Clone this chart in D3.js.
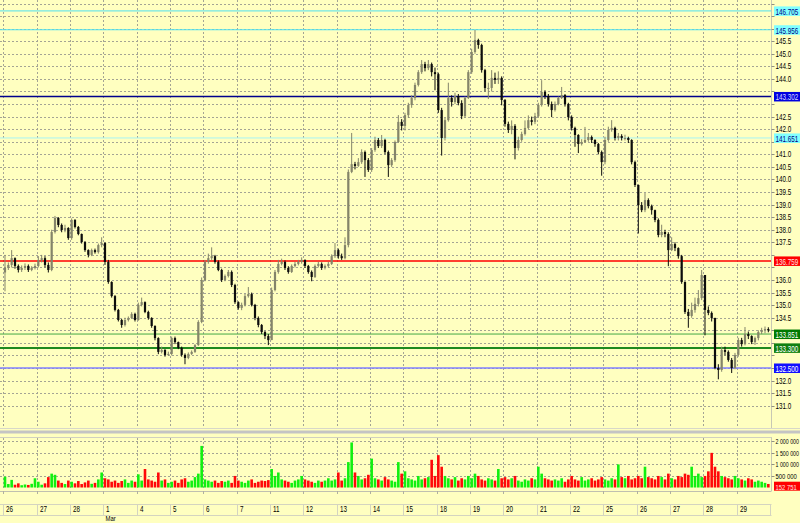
<!DOCTYPE html>
<html><head><meta charset="utf-8">
<script src="https://cdn.jsdelivr.net/npm/d3@7"></script>
<style>html,body{margin:0;padding:0;background:#ffffc0;overflow:hidden}svg{display:block}</style>
</head><body>
<svg id="c" width="800" height="523"></svg>
<script>
// ---------------- DATA ----------------
const dayLabels = ["26","27","28","1","4","5","6","7","11","12","13","14","15","18","19","20","21","22","25","26","27","28","29"];
const monthMarks = ["Mar"];          // month label
const monthMarkDay = [3];            // index of day where month starts
const firstOpen = 136.30;
const closes = [
136.48,136.60,136.87,136.56,136.40,136.48,136.56,136.40,136.48,136.56,
136.80,136.87,136.60,136.40,137.91,138.47,138.19,137.99,138.07,137.67,
138.39,138.11,137.83,137.51,137.19,137.00,137.19,137.11,137.39,137.47,
136.72,135.92,135.36,134.81,134.41,134.21,134.41,134.49,134.65,134.41,
135.01,135.12,134.73,134.49,134.17,133.69,133.14,133.22,133.02,133.06,
133.69,133.53,133.30,133.02,132.90,133.06,133.14,133.41,134.33,136.00,
136.72,136.87,136.95,136.72,136.40,136.00,136.16,136.32,135.80,135.12,
134.89,135.01,135.36,135.44,135.01,134.49,134.21,133.93,133.77,133.61,
135.60,136.32,136.64,136.72,136.48,136.32,136.56,136.64,136.72,136.80,
136.56,136.32,136.12,136.56,136.64,136.48,136.56,136.64,136.95,137.19,
136.95,136.87,137.39,140.30,140.61,140.54,140.69,141.09,140.77,140.38,
141.17,141.57,141.33,141.57,141.09,140.57,140.77,141.49,142.29,142.13,
142.56,142.96,143.24,143.76,144.27,144.59,144.43,144.59,144.27,144.19,
142.76,141.65,142.36,143.24,143.08,143.32,143.04,142.52,143.24,144.27,
145.07,145.55,145.35,144.35,143.64,143.64,144.04,143.96,144.04,143.16,
142.21,141.97,142.13,141.25,141.57,141.81,142.05,142.36,142.29,142.52,
142.96,143.48,143.32,143.00,142.76,143.00,143.24,143.36,143.00,142.48,
142.05,141.77,141.41,141.49,141.57,141.69,141.57,141.41,141.09,140.69,
141.57,141.97,142.05,141.65,141.73,141.65,141.65,141.57,140.69,139.78,
138.98,138.78,139.18,138.94,138.78,138.39,137.79,137.91,137.83,137.19,
137.43,137.27,136.95,135.92,134.73,134.57,134.81,135.05,135.28,136.20,
134.81,134.69,134.49,132.50,132.42,133.22,133.14,132.82,132.50,133.02,
133.61,133.45,133.85,133.77,133.53,133.69,133.93,134.01,134.05,134.00];
const highs = [
137.00,136.70,137.19,136.90,136.62,136.58,136.66,136.62,136.55,136.65,
136.95,137.00,136.95,136.70,138.00,138.55,138.50,138.25,138.20,138.10,
138.45,138.42,138.15,137.85,137.55,137.22,137.25,137.25,137.45,137.70,
137.50,136.80,135.95,135.40,134.85,134.45,134.50,134.55,134.72,134.70,
135.10,135.30,135.15,134.78,134.52,134.20,133.72,133.35,133.25,133.15,
133.75,133.75,133.55,133.35,133.08,133.12,133.20,133.45,134.40,136.10,
136.80,137.05,137.30,137.00,136.78,136.45,136.22,136.40,136.38,135.85,
135.15,135.10,135.45,135.72,135.50,135.05,134.55,134.25,133.98,133.85,
135.70,136.40,136.80,136.85,136.78,136.55,136.62,136.72,136.80,136.90,
136.82,136.60,136.38,136.62,136.72,136.70,136.62,136.72,137.02,137.47,
137.25,137.05,137.70,140.40,141.85,140.70,140.85,141.20,141.15,140.85,
141.25,141.70,141.65,141.77,141.62,141.15,140.85,141.55,142.56,142.40,
142.65,143.05,143.35,143.85,144.35,144.75,144.68,144.75,144.65,144.45,
144.25,142.85,142.45,143.85,143.35,143.45,143.40,143.15,143.30,144.35,
145.20,145.95,145.60,145.40,144.40,143.85,144.35,144.25,144.30,144.10,
143.20,142.30,142.35,142.20,141.70,141.90,142.35,142.55,142.50,142.65,
143.05,143.95,143.55,143.40,143.10,143.10,143.30,143.68,143.40,143.05,
142.55,142.10,141.80,141.60,142.09,141.85,141.75,141.60,141.45,141.15,
141.70,142.10,142.36,142.10,141.85,141.80,141.78,141.70,141.60,140.75,
139.80,139.10,139.46,139.25,139.00,138.80,138.45,138.20,138.00,137.90,
137.70,137.50,137.30,137.00,135.95,134.85,135.10,135.30,135.60,136.40,
136.20,134.95,134.75,134.50,132.65,133.35,133.35,133.20,132.90,133.10,
133.70,133.70,134.13,133.95,133.80,133.75,134.00,134.10,134.15,134.12];
const lows = [
135.55,136.40,136.50,136.45,136.30,136.32,136.40,136.32,136.35,136.42,
136.50,136.70,136.50,136.30,136.35,137.85,138.10,137.90,137.90,137.60,
137.60,138.05,137.78,137.45,137.12,136.90,136.95,137.05,137.05,137.30,
136.60,135.85,135.30,134.75,134.35,134.10,134.15,134.35,134.45,134.35,
134.38,134.95,134.68,134.42,134.10,133.60,133.05,133.08,132.95,132.98,
133.00,133.45,133.25,132.95,132.65,132.85,133.02,133.10,133.38,134.28,
135.95,136.65,136.80,136.65,136.35,135.92,135.95,136.10,135.72,135.05,
134.82,134.80,134.95,135.30,134.95,134.40,134.12,133.85,133.65,133.41,
134.40,135.55,136.25,136.58,136.40,136.25,136.28,136.50,136.58,136.65,
136.48,136.25,135.95,136.08,136.50,136.40,136.42,136.50,136.60,136.88,
136.85,136.80,136.82,137.30,140.25,140.40,140.50,140.62,140.10,140.30,
140.30,141.10,141.25,141.25,141.00,140.10,140.50,140.70,141.45,141.95,
141.95,142.45,142.85,143.15,143.70,144.20,144.30,144.35,144.10,143.55,
142.65,140.95,141.55,142.30,142.90,143.00,142.95,142.40,142.45,143.20,
144.20,145.00,145.20,144.25,143.50,143.20,143.50,143.80,143.80,142.95,
142.10,141.85,141.80,140.80,141.15,141.50,141.75,142.00,142.15,142.20,
142.45,142.90,143.20,142.90,142.48,142.70,142.95,143.20,142.90,142.35,
141.95,141.30,141.05,141.35,141.45,141.50,141.45,141.30,141.00,140.15,
140.60,141.50,141.90,141.55,141.55,141.55,141.55,141.45,140.60,139.70,
137.85,138.70,138.70,138.85,138.60,138.30,137.70,137.70,137.70,136.55,
137.15,137.15,136.85,135.85,134.65,134.10,134.50,134.70,134.95,135.20,
133.80,134.60,134.35,132.45,132.05,132.35,133.00,132.75,132.30,132.45,
132.95,133.35,133.40,133.65,133.45,133.42,133.60,133.85,133.88,133.92];
const volumes = [
470000,150000,330000,120000,180000,100000,130000,110000,160000,400000,
250000,120000,180000,450000,600000,550000,300000,200000,150000,300000,
250000,180000,280000,150000,220000,300000,160000,200000,350000,650000,
400000,350000,250000,300000,200000,280000,350000,200000,300000,250000,
570000,300000,800000,350000,300000,250000,650000,300000,350000,200000,
250000,300000,200000,350000,400000,250000,300000,450000,600000,1800000,
350000,300000,250000,300000,200000,280000,250000,300000,200000,500000,
300000,250000,200000,300000,350000,200000,250000,300000,280000,320000,
800000,500000,650000,350000,300000,250000,200000,300000,350000,500000,
350000,300000,250000,200000,300000,250000,300000,400000,300000,350000,
650000,300000,400000,1100000,1950000,650000,500000,350000,400000,550000,
1250000,400000,350000,300000,450000,350000,300000,250000,1100000,600000,
700000,400000,350000,300000,500000,350000,400000,450000,1200000,500000,
1400000,900000,500000,400000,350000,450000,300000,400000,350000,500000,
400000,600000,500000,350000,300000,400000,350000,300000,800000,400000,
450000,350000,400000,500000,300000,250000,350000,300000,400000,350000,
900000,600000,400000,350000,300000,350000,300000,400000,250000,350000,
500000,350000,300000,450000,300000,350000,400000,300000,350000,450000,
350000,300000,400000,350000,1000000,450000,400000,500000,350000,400000,
500000,400000,900000,450000,400000,350000,500000,450000,350000,600000,
400000,350000,500000,450000,600000,550000,900000,500000,600000,450000,
500000,700000,1500000,900000,700000,500000,450000,400000,350000,500000,
400000,350000,300000,400000,350000,250000,300000,250000,200000,152751];
const priceTicks = [131,131.5,132,132.5,133,133.5,134,134.5,135,135.5,136,136.5,137,137.5,138,138.5,139,139.5,140,140.5,141,141.5,142,142.5,143,143.5,144,144.5,145,145.5,146,146.5,147];
const priceTickLabels = ["131.0","131.5","132.0","132.5","133.0","133.5","134.0","134.5","135.0","135.5","136.0","136.5","137.0","137.5","138.0","138.5","139.0","139.5","140.0","140.5","141.0","141.5","142.0","142.5","143.0","143.5","144.0","144.5","145.0","145.5","146.0","146.5","147.0"];
const levelValues = [146.705, 145.956, 143.302, 141.651, 136.759, 133.851, 133.300, 132.500];
const levelLabels = ["146.705","145.956","143.302","141.651","136.759","133.851","133.300","132.500"];
const volumeTicks = [500000, 1000000, 1500000, 2000000];
const volumeTickLabels = ["500 000","1 000 000","1 500 000","2 000 000"];
const lastVolumeLabel = "152 751";

// ---------------- STYLES ----------------
const levelStyle = [
  {line:"#4fe0f0", w:1, bg:"#80ffff", fg:"#000080"},
  {line:"#4fe0f0", w:1, bg:"#80ffff", fg:"#000080"},
  {line:"#00008c", w:1.6, bg:"#0000e0", fg:"#d8d8ff"},
  {line:"#a8f4f4", w:1, bg:"#80ffff", fg:"#000080"},
  {line:"#ff0000", w:1.6, bg:"#ff0000", fg:"#ffe0e0"},
  {line:"#44aa44", w:1, bg:"#007a00", fg:"#ffffff"},
  {line:"#1f8a1f", w:2, bg:"#108010", fg:"#ffffff"},
  {line:"#8080ff", w:1.5, bg:"#1010ff", fg:"#ffffff"}
];
const BG = "#ffffc0";
const FONT = "Liberation Sans, Arial, sans-serif";

// ---------------- CHART ----------------
const svg = d3.select("#c");
svg.append("rect").attr("width",800).attr("height",523).attr("fill",BG);

const plotL = 0, plotR = 771.5;
const x0 = 3.33, x1 = 770;
const N = closes.length;
const opens = closes.map((c,i)=> i===0 ? firstOpen : closes[i-1]);

const xc = d3.scaleBand().domain(d3.range(N)).range([x0, x1]);
const xd = d3.scaleBand().domain(d3.range(dayLabels.length)).range([x0, x1]);
const y = d3.scaleLinear().domain([131,147]).range([405.7, 3.5]);
const yv = d3.scaleLinear().domain([0,2000000]).range([487.5, 441.3]);

function txt(g, x, yy, s, opts={}) {
  const sx = opts.sx || 0.74;
  const t = g.append("text")
    .attr("font-family", FONT).attr("font-size", opts.size||8.5)
    .attr("fill", opts.fill||"#000").text(s);
  let k = sx;
  if (opts.maxW) {
    const w = t.node().getComputedTextLength();
    if (w*k > opts.maxW) k = opts.maxW / w;
  }
  t.attr("transform", `translate(${x},${yy}) scale(${k},1)`);
  return t;
}

// grid main
const grid = svg.append("g").attr("stroke","#a4a494").attr("stroke-dasharray","2,2").attr("stroke-width",1);
priceTicks.forEach(p=>{
  const yy = Math.round(y(p))+0.5;
  grid.append("line").attr("x1",plotL).attr("x2",plotR).attr("y1",yy).attr("y2",yy);
});
xd.domain().forEach(d=>{
  const xx = Math.round(xd(d))+0.5;
  grid.append("line").attr("x1",xx).attr("x2",xx).attr("y1",0).attr("y2",427);
  grid.append("line").attr("x1",xx).attr("x2",xx).attr("y1",438).attr("y2",490);
});
volumeTicks.forEach(v=>{
  const yy = Math.round(yv(v))+0.5;
  grid.append("line").attr("x1",plotL).attr("x2",plotR).attr("y1",yy).attr("y2",yy);
});

// level lines (under candles)
const lv = svg.append("g");
levelValues.forEach((v,i)=>{
  lv.append("line").attr("x1",plotL).attr("x2",plotR).attr("y1",y(v)).attr("y2",y(v))
    .attr("stroke",levelStyle[i].line).attr("stroke-width",levelStyle[i].w);
});

// candles
const BULL = "#84846a", BEAR = "#0c0c0c";
const cg = svg.append("g");
d3.range(N).forEach(i=>{
  const o = opens[i], c = closes[i];
  const hi = Math.max(highs[i], o, c), lo = Math.min(lows[i], o, c);
  const col = c >= o ? BULL : BEAR;
  const cx = xc(i) + xc.bandwidth()/2;
  cg.append("line").attr("x1",cx).attr("x2",cx).attr("y1",y(hi)).attr("y2",y(lo))
    .attr("stroke",col).attr("stroke-width",1);
  const top = y(Math.max(o,c)), bot = y(Math.min(o,c));
  cg.append("rect").attr("x",cx-1.1).attr("width",2.2)
    .attr("y",top).attr("height",Math.max(1,bot-top)).attr("fill",col);
});

// volume bars
const vg = svg.append("g");
d3.range(N).forEach(i=>{
  const col = closes[i] >= opens[i] ? "#10f010" : "#ff0808";
  const cx = xc(i) + xc.bandwidth()/2;
  vg.append("rect").attr("x",cx-1.3).attr("width",2.6)
    .attr("y",yv(volumes[i])).attr("height",yv(0)-yv(volumes[i])).attr("fill",col);
});

// frames / separators
const fr = svg.append("g");
fr.append("line").attr("x1",plotR).attr("x2",plotR).attr("y1",0).attr("y2",428).attr("stroke","#c8c8b4");
fr.append("line").attr("x1",plotR).attr("x2",plotR).attr("y1",437).attr("y2",491).attr("stroke","#c8c8b4");
fr.append("line").attr("x1",0).attr("x2",800).attr("y1",428.5).attr("y2",428.5).attr("stroke","#d8d8c8");
fr.append("rect").attr("x",0).attr("y",430.5).attr("width",800).attr("height",3).attr("fill","#c4c4c4");
fr.append("line").attr("x1",0).attr("x2",plotR).attr("y1",437.5).attr("y2",437.5).attr("stroke","#d0d0c0");
fr.append("line").attr("x1",0).attr("x2",plotR).attr("y1",491.5).attr("y2",491.5).attr("stroke","#c0c0b0");

// right price axis
const ax = svg.append("g");
const MAXW = 23.5;
priceTicks.forEach((p,i)=>{
  const yy = Math.round(y(p))+0.5;
  ax.append("line").attr("x1",plotR).attr("x2",plotR+3).attr("y1",yy).attr("y2",yy).attr("stroke","#909080");
  const covered = levelValues.some(v => Math.abs(y(v) - y(p)) < 8.5);
  if (!covered) txt(ax, 775.5, yy+2.8, priceTickLabels[i], {maxW:MAXW});
});
levelValues.forEach((v,i)=>{
  const yy = y(v);
  ax.append("rect").attr("x",774).attr("y",yy-4.5).attr("width",30).attr("height",9.5).attr("fill",levelStyle[i].bg);
  txt(ax, 775.5, yy+4, levelLabels[i], {fill:levelStyle[i].fg, maxW:MAXW});
});
// volume axis
volumeTicks.forEach((v,i)=>{
  const yy = Math.round(yv(v))+0.5;
  ax.append("line").attr("x1",plotR).attr("x2",plotR+3).attr("y1",yy).attr("y2",yy).attr("stroke","#909080");
  txt(ax, 775.5, yy+2.6, volumeTickLabels[i], {maxW:MAXW, size:8});
});
{
  const yy = 486;
  ax.append("rect").attr("x",774).attr("y",yy-4.3).attr("width",30).attr("height",9).attr("fill","#ff0000");
  txt(ax, 775.5, yy+3.7, lastVolumeLabel, {fill:"#ffe0e0", maxW:MAXW, size:8});
}

// date axis
const da = svg.append("g");
da.append("line").attr("x1",0).attr("x2",plotR).attr("y1",504.5).attr("y2",504.5).attr("stroke","#d4d4c0");
da.append("line").attr("x1",0).attr("x2",plotR).attr("y1",515.5).attr("y2",515.5).attr("stroke","#d4d4c0");
dayLabels.forEach((d,i)=>{
  const xx = Math.round(xd(i))+0.5;
  da.append("line").attr("x1",xx).attr("x2",xx).attr("y1",491).attr("y2",494).attr("stroke","#b0b0a0");
  da.append("line").attr("x1",xx).attr("x2",xx).attr("y1",504).attr("y2",516).attr("stroke","#d4d4c0");
  txt(da, xx+2.5, 512, d, {size:8.5});
});
da.append("line").attr("x1",x1+0.5).attr("x2",x1+0.5).attr("y1",504).attr("y2",516).attr("stroke","#d4d4c0");
monthMarks.forEach((m,k)=>{
  txt(da, Math.round(xd(monthMarkDay[k]))+2.5, 521.2, m, {size:8});
});
</script>
</body></html>
